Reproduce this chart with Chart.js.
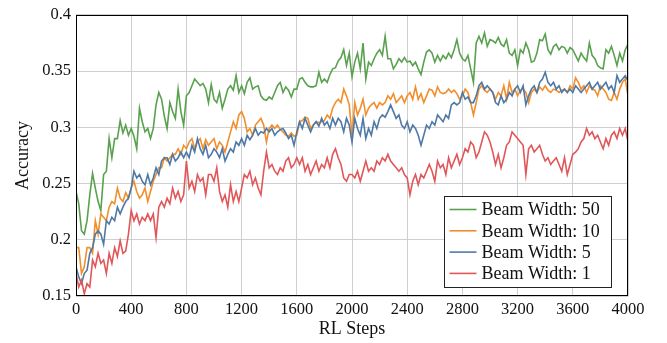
<!DOCTYPE html>
<html>
<head>
<meta charset="utf-8">
<script src="https://cdn.jsdelivr.net/npm/chart.js@4/dist/chart.umd.min.js"></script>
<style>
  html, body { margin: 0; padding: 0; background: #fff; }
  #wrap { width: 667px; height: 343px; }
</style>
</head>
<body>
<div id="wrap"><canvas id="c" width="667" height="343"></canvas></div>
<script>
const steps = [
0,20,40,60,80,100,120,140,160,180,200,220,240,260,280,300,320,340,360,380,
400,420,440,460,480,500,520,540,560,580,600,620,640,660,680,700,720,740,760,780,
800,820,840,860,880,900,920,940,960,980,1000,1020,1040,1060,1080,1100,1120,1140,1160,1180,
1200,1220,1240,1260,1280,1300,1320,1340,1360,1380,1400,1420,1440,1460,1480,1500,1520,1540,1560,1580,
1600,1620,1640,1660,1680,1700,1720,1740,1760,1780,1800,1820,1840,1860,1880,1900,1920,1940,1960,1980,
2000,2020,2040,2060,2080,2100,2120,2140,2160,2180,2200,2220,2240,2260,2280,2300,2320,2340,2360,2380,
2400,2420,2440,2460,2480,2500,2520,2540,2560,2580,2600,2620,2640,2660,2680,2700,2720,2740,2760,2780,
2800,2820,2840,2860,2880,2900,2920,2940,2960,2980,3000,3020,3040,3060,3080,3100,3120,3140,3160,3180,
3200,3220,3240,3260,3280,3300,3320,3340,3360,3380,3400,3420,3440,3460,3480,3500,3520,3540,3560,3580,
3600,3620,3640,3660,3680,3700,3720,3740,3760,3780,3800,3820,3840,3860,3880,3900,3920,3940,3960,3980,
4000];

const beam50 = [
0.243,0.232,0.208,0.205,0.217,0.24,0.259,0.246,0.234,0.226,
0.258,0.261,0.29,0.273,0.29,0.29,0.306,0.295,0.302,0.293,
0.299,0.292,0.281,0.317,0.305,0.296,0.299,0.29,0.299,0.32,
0.331,0.325,0.31,0.299,0.322,0.314,0.308,0.334,0.314,0.302,
0.328,0.331,0.337,0.343,0.34,0.337,0.339,0.334,0.322,0.338,
0.325,0.322,0.331,0.317,0.325,0.334,0.337,0.333,0.346,0.331,
0.337,0.33,0.34,0.344,0.334,0.336,0.337,0.328,0.325,0.324,
0.327,0.325,0.331,0.337,0.34,0.331,0.336,0.333,0.327,0.334,
0.334,0.343,0.344,0.34,0.337,0.336,0.336,0.337,0.349,0.34,
0.343,0.34,0.347,0.352,0.353,0.359,0.362,0.369,0.355,0.366,
0.345,0.358,0.366,0.352,0.375,0.343,0.358,0.355,0.361,0.366,
0.369,0.364,0.381,0.361,0.361,0.352,0.356,0.361,0.358,0.362,
0.358,0.359,0.355,0.358,0.352,0.347,0.358,0.367,0.369,0.366,
0.358,0.364,0.359,0.364,0.361,0.366,0.362,0.369,0.378,0.366,
0.361,0.359,0.364,0.352,0.34,0.375,0.381,0.375,0.384,0.372,
0.378,0.377,0.375,0.38,0.374,0.372,0.378,0.366,0.364,0.369,
0.355,0.369,0.366,0.375,0.369,0.358,0.359,0.366,0.378,0.377,
0.383,0.369,0.365,0.372,0.374,0.369,0.372,0.371,0.366,0.371,
0.369,0.364,0.359,0.366,0.362,0.359,0.375,0.364,0.361,0.355,
0.353,0.352,0.369,0.366,0.372,0.364,0.355,0.366,0.359,0.369,
0.374];

const beam10 = [
0.193,0.193,0.17,0.176,0.193,0.193,0.188,0.217,0.205,0.223,
0.22,0.217,0.229,0.234,0.232,0.246,0.237,0.234,0.242,0.237,
0.246,0.252,0.243,0.237,0.24,0.246,0.234,0.243,0.252,0.258,
0.264,0.264,0.273,0.27,0.273,0.276,0.276,0.281,0.276,0.284,
0.281,0.287,0.29,0.281,0.287,0.29,0.281,0.289,0.284,0.287,
0.29,0.281,0.287,0.284,0.278,0.287,0.296,0.305,0.299,0.311,
0.314,0.308,0.296,0.299,0.293,0.302,0.305,0.308,0.302,0.287,
0.299,0.302,0.299,0.302,0.298,0.296,0.293,0.292,0.295,0.292,
0.293,0.305,0.306,0.309,0.308,0.299,0.302,0.305,0.304,0.305,
0.306,0.311,0.308,0.317,0.322,0.325,0.322,0.334,0.328,0.32,
0.293,0.322,0.311,0.317,0.325,0.311,0.317,0.32,0.322,0.317,
0.322,0.32,0.322,0.328,0.325,0.33,0.322,0.325,0.328,0.322,
0.328,0.331,0.325,0.336,0.325,0.33,0.322,0.328,0.334,0.333,
0.328,0.336,0.331,0.33,0.331,0.334,0.331,0.333,0.33,0.325,
0.328,0.334,0.331,0.322,0.311,0.322,0.334,0.337,0.333,0.331,
0.334,0.331,0.325,0.331,0.328,0.337,0.325,0.34,0.331,0.334,
0.328,0.333,0.334,0.331,0.322,0.331,0.334,0.331,0.336,0.333,
0.337,0.333,0.331,0.334,0.333,0.331,0.333,0.334,0.331,0.337,
0.334,0.344,0.34,0.334,0.337,0.331,0.337,0.334,0.333,0.328,
0.337,0.334,0.331,0.325,0.324,0.331,0.325,0.334,0.34,0.343,
0.328];

const beam5 = [
0.176,0.167,0.161,0.17,0.173,0.188,0.193,0.205,0.208,0.205,
0.196,0.217,0.214,0.22,0.217,0.229,0.223,0.229,0.234,0.237,
0.246,0.261,0.255,0.258,0.252,0.249,0.258,0.249,0.255,0.264,
0.258,0.27,0.273,0.273,0.267,0.276,0.27,0.273,0.278,0.273,
0.278,0.273,0.284,0.278,0.29,0.281,0.276,0.284,0.273,0.276,
0.281,0.278,0.273,0.281,0.27,0.276,0.281,0.278,0.287,0.284,
0.29,0.284,0.293,0.289,0.293,0.299,0.293,0.296,0.295,0.299,
0.296,0.299,0.293,0.296,0.298,0.299,0.295,0.29,0.293,0.284,
0.296,0.305,0.299,0.308,0.302,0.296,0.302,0.305,0.301,0.308,
0.302,0.305,0.299,0.308,0.302,0.308,0.305,0.296,0.308,0.302,
0.287,0.308,0.299,0.293,0.308,0.29,0.299,0.293,0.305,0.299,
0.308,0.311,0.309,0.314,0.32,0.314,0.308,0.311,0.302,0.299,
0.305,0.296,0.302,0.299,0.293,0.284,0.293,0.302,0.299,0.305,
0.302,0.311,0.308,0.305,0.311,0.308,0.32,0.322,0.32,0.322,
0.331,0.325,0.327,0.322,0.322,0.328,0.337,0.34,0.334,0.337,
0.334,0.331,0.322,0.32,0.328,0.322,0.325,0.331,0.328,0.334,
0.337,0.331,0.337,0.32,0.328,0.334,0.337,0.331,0.34,0.343,
0.349,0.34,0.337,0.34,0.334,0.337,0.331,0.334,0.331,0.334,
0.331,0.337,0.334,0.331,0.334,0.337,0.34,0.334,0.337,0.34,
0.334,0.337,0.34,0.334,0.337,0.331,0.346,0.34,0.343,0.346,
0.341];

const beam1 = [
0.17,0.158,0.164,0.152,0.161,0.158,0.182,0.176,0.188,0.179,
0.182,0.17,0.188,0.179,0.193,0.185,0.199,0.188,0.19,0.205,
0.226,0.217,0.223,0.214,0.22,0.217,0.223,0.217,0.223,0.202,
0.229,0.234,0.229,0.237,0.232,0.246,0.237,0.243,0.234,0.24,
0.27,0.246,0.252,0.243,0.258,0.252,0.255,0.24,0.258,0.258,
0.252,0.264,0.243,0.234,0.24,0.229,0.249,0.234,0.243,0.234,
0.246,0.258,0.255,0.261,0.249,0.255,0.246,0.24,0.261,0.278,
0.264,0.267,0.261,0.258,0.264,0.261,0.27,0.273,0.264,0.267,
0.273,0.267,0.273,0.261,0.267,0.258,0.264,0.27,0.261,0.267,
0.264,0.273,0.264,0.276,0.281,0.273,0.267,0.255,0.252,0.258,
0.258,0.255,0.261,0.252,0.261,0.27,0.261,0.264,0.261,0.27,
0.267,0.273,0.27,0.276,0.27,0.267,0.264,0.261,0.264,0.258,
0.255,0.24,0.252,0.258,0.249,0.258,0.255,0.261,0.267,0.261,
0.252,0.27,0.264,0.267,0.258,0.273,0.264,0.27,0.276,0.267,
0.273,0.281,0.278,0.287,0.284,0.273,0.278,0.287,0.296,0.293,
0.287,0.278,0.267,0.276,0.264,0.273,0.284,0.287,0.296,0.293,
0.29,0.287,0.284,0.258,0.281,0.284,0.278,0.281,0.284,0.276,
0.27,0.273,0.267,0.27,0.273,0.267,0.261,0.273,0.258,0.267,
0.276,0.278,0.281,0.287,0.29,0.299,0.293,0.296,0.29,0.293,
0.287,0.281,0.29,0.284,0.293,0.296,0.29,0.299,0.293,0.299,
0.287];

const seriesLabels = ['Beam Width: 50', 'Beam Width: 10', 'Beam Width: 5', 'Beam Width: 1'];
const seriesValues = [beam50, beam10, beam5, beam1];
const seriesColors = ['#59a14f', '#f28e2b', '#4e79a7', '#e15759'];
const xTickLabels = ['0','400','800','1200','1600','2000','2400','2800','3200','3600','4000'];
const yTickLabels = ['0.15','0.2','0.25','0.3','0.35','0.4'];

const FONT = "'Liberation Serif', 'DejaVu Serif', serif";

const datasets = seriesValues.map((vals, i) => ({
  label: seriesLabels[i],
  data: vals.map((v, j) => ({ x: steps[j], y: v })),
  borderColor: seriesColors[i],
  backgroundColor: seriesColors[i],
  borderWidth: 1.6,
  pointRadius: 0,
  tension: 0,
  fill: false,
  order: seriesValues.length - i
}));

const framePlugin = {
  id: 'frame',
  afterDatasetsDraw(chart) {
    const { ctx, chartArea: a } = chart;
    ctx.save();
    ctx.strokeStyle = '#000';
    ctx.lineWidth = 1;
    ctx.strokeRect(Math.round(a.left) + 0.5, Math.round(a.top) + 0.5,
                   Math.round(a.right - a.left) - 1, Math.round(a.bottom - a.top) - 1);
    ctx.restore();
  }
};

const legendPlugin = {
  id: 'boxLegend',
  afterDraw(chart) {
    const { ctx, chartArea: a } = chart;
    const w = 167, h = 91;
    const x0 = Math.round(a.right - 17 - w) + 0.5;
    const y0 = Math.round(a.bottom - 9 - h) + 0.5;
    ctx.save();
    ctx.fillStyle = '#fff';
    ctx.fillRect(x0, y0, w, h);
    ctx.strokeStyle = '#222';
    ctx.lineWidth = 1;
    ctx.strokeRect(x0, y0, w, h);
    ctx.font = "18px " + FONT;
    ctx.textBaseline = 'middle';
    ctx.textAlign = 'left';
    chart.data.datasets.forEach((ds, i) => {
      const yy = y0 + 13 + i * 21.3;
      ctx.strokeStyle = ds.borderColor;
      ctx.lineWidth = 1.6;
      ctx.beginPath();
      ctx.moveTo(x0 + 5, yy);
      ctx.lineTo(x0 + 32, yy);
      ctx.stroke();
      ctx.fillStyle = '#111';
      ctx.fillText(ds.label, x0 + 37, yy + 1);
    });
    ctx.restore();
  }
};

new Chart(document.getElementById('c'), {
  type: 'line',
  data: { datasets },
  options: {
    responsive: false,
    animation: false,
    layout: { padding: { top: 12, right: 39, left: 12, bottom: 0 } },
    plugins: { legend: { display: false }, tooltip: { enabled: false } },
    scales: {
      x: {
        type: 'linear',
        min: 0, max: 4000,
        afterBuildTicks(scale) { scale.ticks = xTickLabels.map(t => ({ value: Number(t) })); },
        afterFit(scale) { scale.height = 47; },
        ticks: {
          callback: (v, i) => xTickLabels[i],
          font: { family: FONT, size: 16.5 },
          color: '#111',
          padding: 4,
          maxRotation: 0,
          autoSkip: false
        },
        grid: { color: '#cfcfcf', lineWidth: 1, tickLength: 0, drawTicks: false },
        border: { display: false },
        title: { display: true, text: 'RL Steps', font: { family: FONT, size: 18 }, color: '#111', padding: { top: 0, bottom: 3 } }
      },
      y: {
        type: 'linear',
        min: 0.15, max: 0.4,
        afterBuildTicks(scale) { scale.ticks = yTickLabels.map(t => ({ value: Number(t) })); },
        afterFit(scale) { scale.width = 64; },
        ticks: {
          callback: (v, i) => yTickLabels[i],
          font: { family: FONT, size: 16.5 },
          color: '#111',
          padding: 5,
          autoSkip: false
        },
        grid: { color: '#cfcfcf', lineWidth: 1, tickLength: 0, drawTicks: false },
        border: { display: false },
        title: { display: true, text: 'Accuracy', font: { family: FONT, size: 18 }, color: '#111', padding: { top: 0, bottom: 0 } }
      }
    }
  },
  plugins: [framePlugin, legendPlugin]
});
</script>
</body>
</html>
